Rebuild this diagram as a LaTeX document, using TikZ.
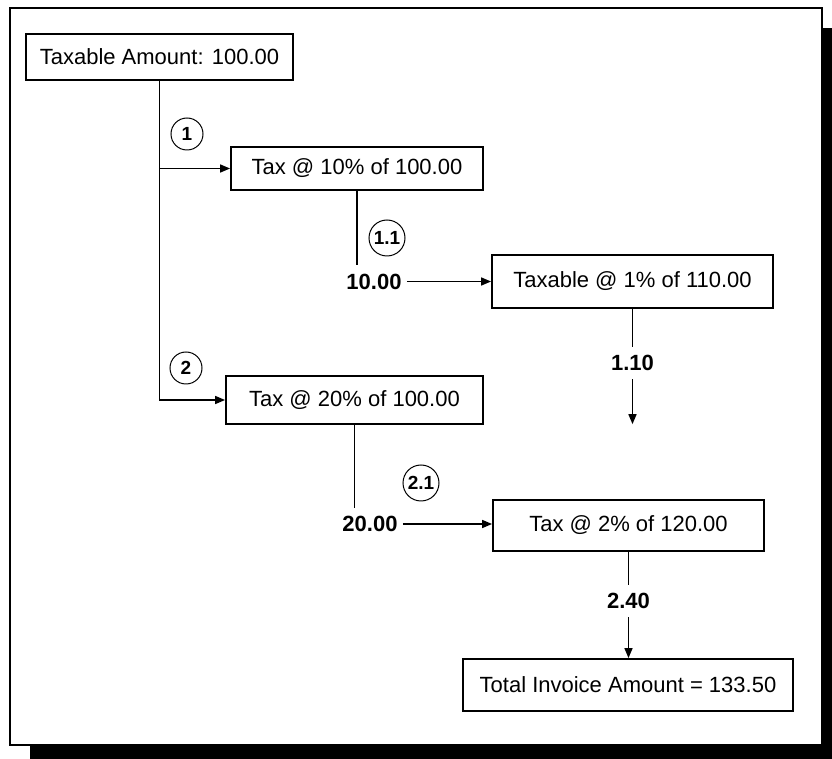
\documentclass[tikz,border=0pt]{standalone}
\usepackage{fontspec}
\setmainfont{Liberation Sans}
\usepackage{tikz}
\usetikzlibrary{arrows.meta, positioning}
\tikzstyle{taxbox} = [draw, line width=0.9pt, rectangle, inner sep=0pt, font=\fontsize{11}{13}\selectfont]
\tikzstyle{amount} = [inner xsep=2.5pt, inner ysep=4pt, font=\fontsize{11}{13}\selectfont\bfseries]
\tikzstyle{stepnum} = [draw, circle, line width=0.5pt, inner sep=0pt, font=\fontsize{9.5}{11}\selectfont\bfseries]
\tikzstyle{link} = [line width=0.8pt]
\tikzstyle{flow} = [link, -{Triangle[length=5pt,width=4pt]}]

\begin{document}
\begin{tikzpicture}[x=0.5pt, y=-0.5pt]
	\useasboundingbox (0,0) rectangle (832,759);
	\fill (30,28) rectangle (832,759);
	\draw[fill=white, line width=0.8pt] (10,8) rectangle (822,745);
	\node[taxbox, minimum width=133.5pt, minimum height=23pt] (taxable) at (159.5,57) {Taxable Amount: 100.00};
	\node[taxbox, minimum width=126pt, minimum height=21.5pt] (taxten) at (357,168.5) {Tax @ 10\% of 100.00};
	\node[taxbox, minimum width=140.5pt, minimum height=26.5pt] (taxone) at (632.5,281.5) {Taxable @ 1\% of 110.00};
	\node[taxbox, minimum width=128.5pt, minimum height=24pt] (taxtwenty) at (354.5,400) {Tax @ 20\% of 100.00};
	\node[taxbox, minimum width=135.5pt, minimum height=25.5pt] (taxtwo) at (628.5,525.5) {Tax @ 2\% of 120.00};
	\node[taxbox, minimum width=165pt, minimum height=26pt] (total) at (628,685) {Total Invoice Amount = 133.50};
	% amounts
	\node[amount] (tenval) at (374,281.5) {10.00};
	\node[amount] (onetenval) at (632.5,363) {1.10};
	\node[amount] (twentyval) at (370,524) {20.00};
	\node[amount] (twofortyval) at (628.5,601) {2.40};
	\coordinate[below=22.5pt of onetenval] (onetenend);
	% steps
	\node[stepnum, minimum size=16pt] (stepone) at (187,134) {1};
	\node[stepnum, minimum size=18pt] (steponeone) at (387,238) {1.1};
	\node[stepnum, minimum size=16pt] (steptwo) at (186,368) {2};
	\node[stepnum, minimum size=18pt] (steptwoone) at (421,483) {2.1};
	% connectors
	\draw[flow] (taxable.south) |- (taxtwenty.west);
	\draw[flow] (taxable.south |- taxten.west) -- (taxten.west);
	\draw[link] (taxten.south) -- (taxten.south |- tenval.north);
	\draw[flow] (tenval.east) -- (taxone.west);
	\draw[link] (taxone.south) -- (onetenval.north);
	\draw[flow] (onetenval.south) -- (onetenend);
	\draw[link] (taxtwenty.south) -- (taxtwenty.south |- twentyval.north);
	\draw[flow] (twentyval.east) -- (twentyval.east -| taxtwo.west);
	\draw[link] (taxtwo.south) -- (twofortyval.north);
	\draw[flow] (twofortyval.south) -- (twofortyval.south |- total.north);
\end{tikzpicture}
\end{document}
